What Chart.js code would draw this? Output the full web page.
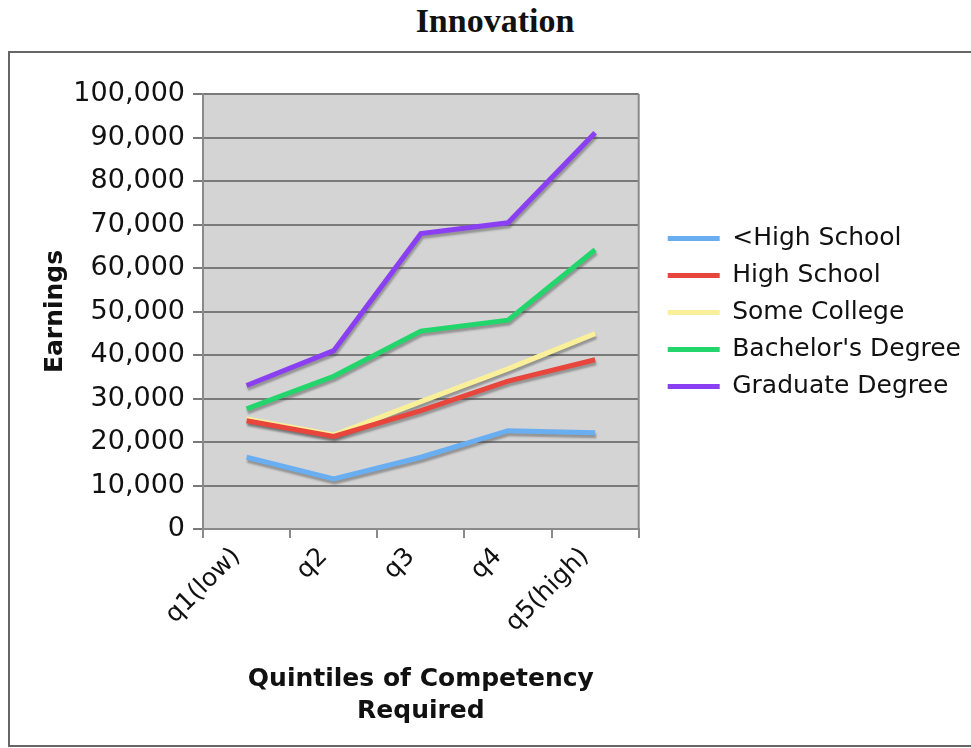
<!DOCTYPE html>
<html>
<head>
<meta charset="utf-8">
<script src="https://cdn.jsdelivr.net/npm/chart.js@4"></script>
<style>
  html, body { margin: 0; padding: 0; background: #fff; overflow: hidden; }
  #title { position: absolute; left: 0; top: 2px; width: 990px; text-align: center; font: bold 34px "Liberation Serif", serif; color: #111; }
  #frame { position: absolute; left: 8px; top: 51px; width: 1000px; height: 692px; border: 2px solid #666; }
  #wrap { position: absolute; left: 0; top: 0; width: 971px; height: 748px; }
</style>
</head>
<body>
<div id="title">Innovation</div>
<div id="frame"></div>
<div id="wrap"><canvas id="chart"></canvas></div>
<script>
const quintiles = ["q1(low)", "q2", "q3", "q4", "q5(high)"];
const seriesNames = ["<High School", "High School", "Some College", "Bachelor's Degree", "Graduate Degree"];
const seriesColors = ["#6aaef2", "#e8463c", "#faf09a", "#22d66c", "#8a3ff2"];

const belowHighSchool = [16500, 11500, 16500, 22600, 22100];
const highSchool = [24900, 21300, 27200, 34000, 38900];
const someCollege = [25300, 21600, 29300, 36800, 44900];
const bachelors = [27600, 35100, 45500, 48000, 64200];
const graduate = [33000, 41000, 67900, 70400, 91100];

const yMax = 100000;
const yStep = 10000;

const allSeries = [belowHighSchool, highSchool, someCollege, bachelors, graduate];

const FONT = "'DejaVu Sans', Verdana, sans-serif";

const plotBackground = {
  id: "plotBackground",
  beforeDraw(chart) {
    const { ctx, chartArea } = chart;
    ctx.save();
    ctx.fillStyle = "#d4d4d4";
    ctx.fillRect(chartArea.left, chartArea.top, chartArea.right - chartArea.left, chartArea.bottom - chartArea.top);
    ctx.restore();
  },
  beforeDatasetsDraw(chart) {
    const { ctx, chartArea } = chart;
    ctx.save();
    ctx.strokeStyle = "#8a8a8a";
    ctx.lineWidth = 2;
    ctx.beginPath();
    ctx.moveTo(chartArea.right, chartArea.top);
    ctx.lineTo(chartArea.right, chartArea.bottom);
    ctx.stroke();
    ctx.restore();
    // soft drop shadow under the lines
    ctx.save();
    ctx.shadowColor = "rgba(70,70,70,0.45)";
    ctx.shadowOffsetX = 1;
    ctx.shadowOffsetY = 3;
    ctx.shadowBlur = 2;
  },
  afterDatasetsDraw(chart) {
    chart.ctx.restore();
  },
};

const datasets = allSeries.map((data, i) => ({
  label: seriesNames[i],
  data,
  xAxisID: "x",
  yAxisID: "y",
  borderColor: seriesColors[i],
  backgroundColor: seriesColors[i],
  borderWidth: 5,
  borderCapStyle: "butt",
  borderJoinStyle: "miter",
  pointRadius: 0,
  tension: 0,
  fill: false,
}));

new Chart(document.getElementById("chart"), {
  type: "line",
  data: { labels: quintiles, datasets },
  options: {
    responsive: true,
    maintainAspectRatio: false,
    animation: false,
    layout: { padding: { left: 40, top: 94, right: 0, bottom: 20 } },
    scales: {
      x: {
        offset: true,
        afterFit(scale) { scale.height = 199; },
        grid: { offset: true, drawOnChartArea: false, drawTicks: true, tickLength: 9, color: "#8a8a8a", lineWidth: 2 },
        border: { color: "#8a8a8a", width: 2 },
        ticks: { color: "#111", font: { family: FONT, size: 25 }, maxRotation: 45, minRotation: 45, padding: 4, labelOffset: -10 },
        title: {
          display: true,
          text: ["Quintiles of Competency", "Required"],
          color: "#111",
          font: { family: FONT, size: 25, weight: "bold", lineHeight: 1.3 },
          padding: { top: 0, bottom: 0 },
        },
      },
      y: {
        min: 0,
        max: yMax,
        afterFit(scale) { scale.width = 163; },
        grid: { color: "#7a7a7a", lineWidth: 2, tickLength: 10 },
        border: { color: "#8a8a8a", width: 2 },
        ticks: {
          stepSize: yStep,
          color: "#111",
          padding: 8,
          font: { family: FONT, size: 27 },
          callback: (v) => v.toLocaleString("en-US"),
        },
        title: {
          display: true,
          text: "Earnings",
          color: "#111",
          font: { family: FONT, size: 25, weight: "bold" },
          padding: 0,
        },
      },
      gap: {
        position: "right",
        afterFit(scale) { scale.width = 17; },
        grid: { display: false },
        border: { display: false },
        ticks: { display: false },
      },
    },
    plugins: {
      legend: {
        position: "right",
        align: "start",
        maxWidth: 400,
        // empty title only pushes the items down to sit beside the middle of the plot
        title: { display: true, text: "", font: { size: 10, lineHeight: 1 }, padding: { top: 110, bottom: 0 } },
        labels: {
          usePointStyle: true,
          pointStyle: "line",
          pointStyleWidth: 52,
          color: "#111",
          font: { family: FONT, size: 25 },
          padding: 12,
        },
      },
      tooltip: { enabled: false },
    },
  },
  plugins: [plotBackground],
});
</script>
</body>
</html>
